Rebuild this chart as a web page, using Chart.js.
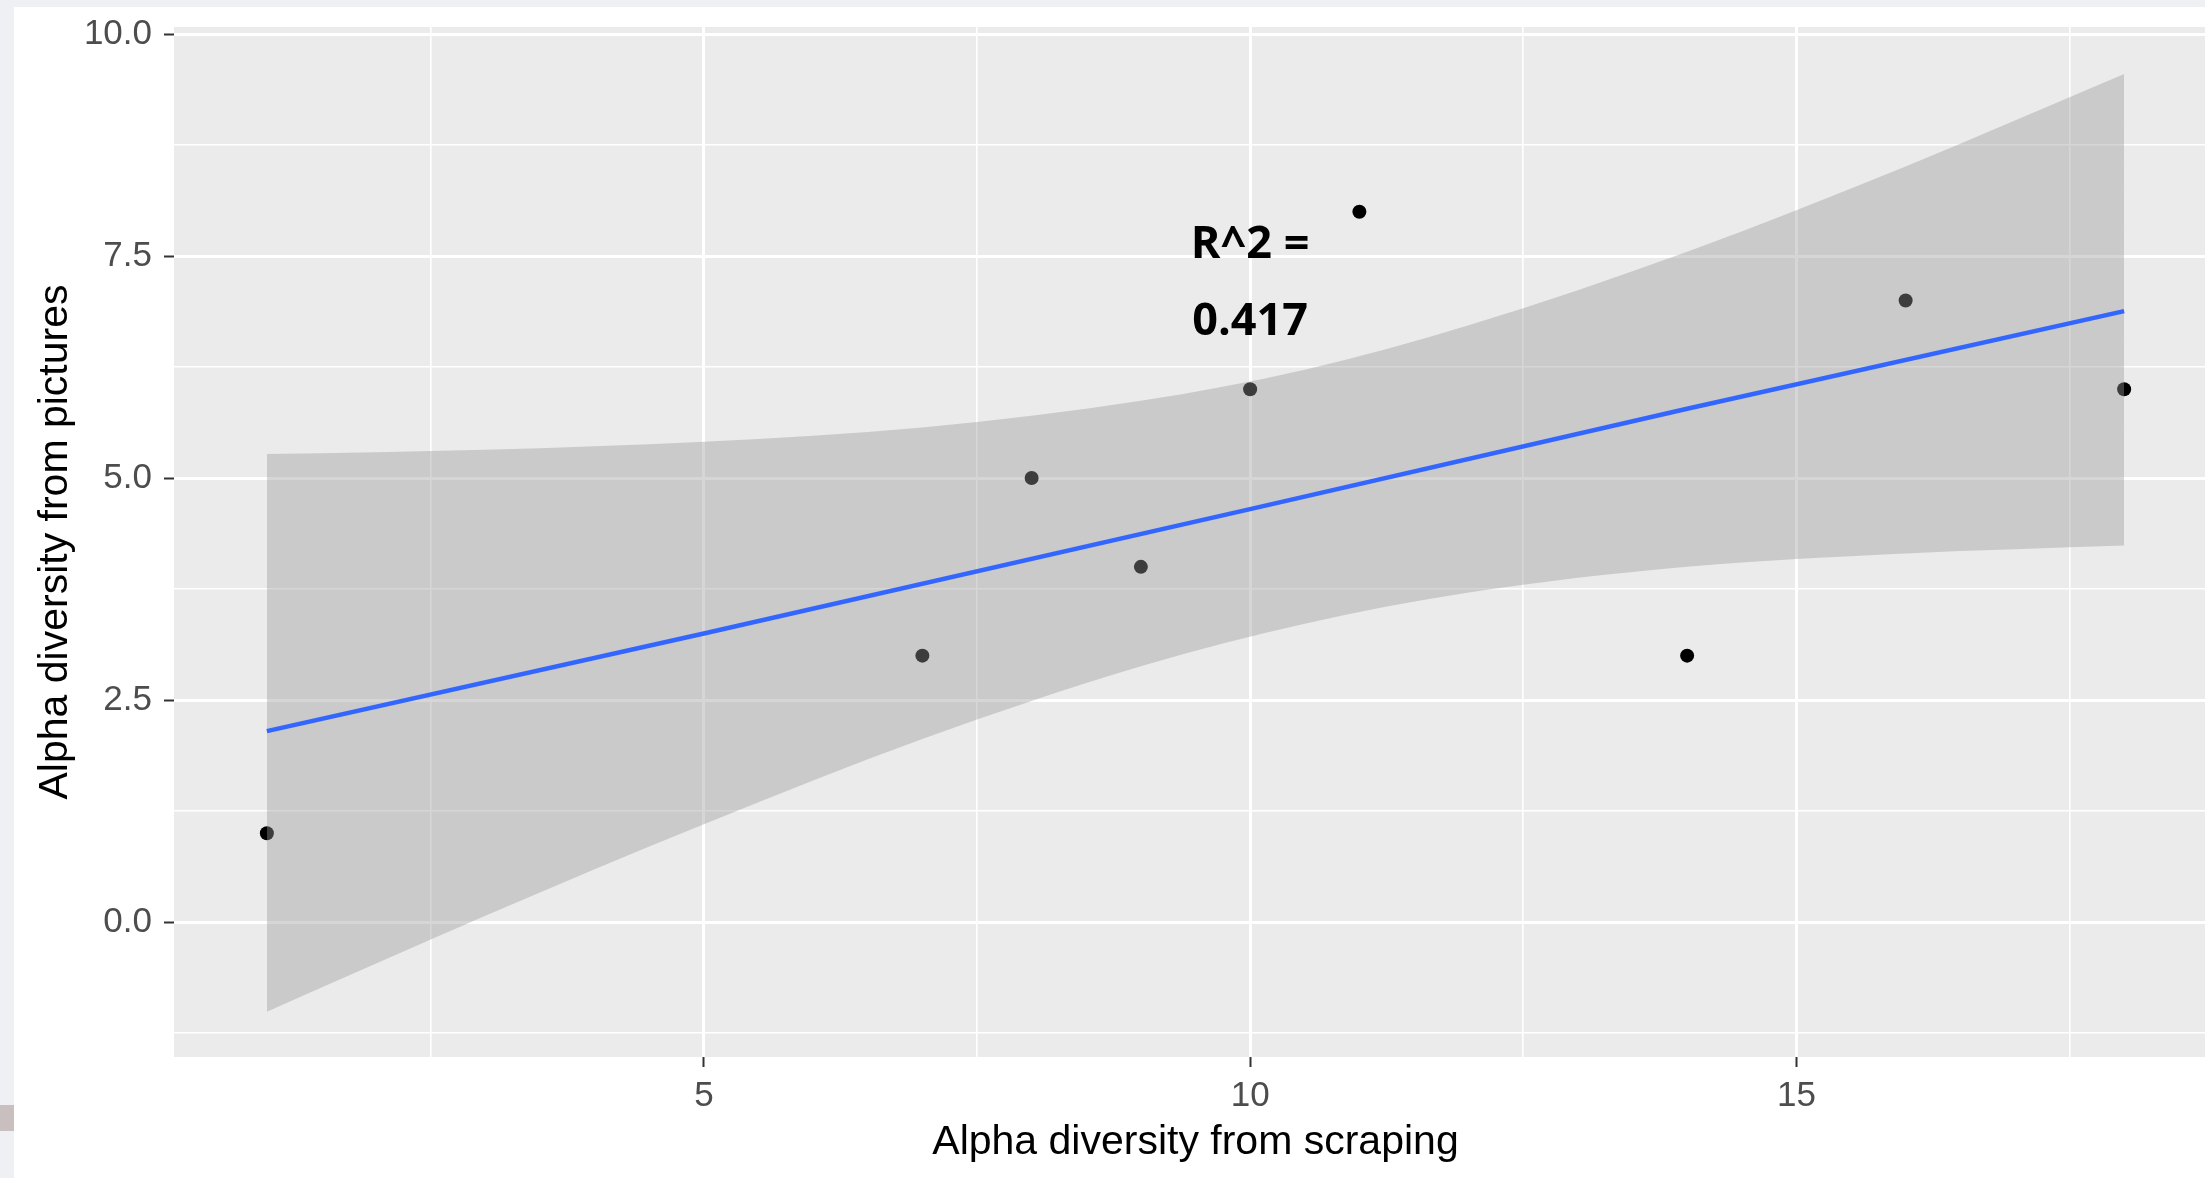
<!DOCTYPE html>
<html>
<head>
<meta charset="utf-8">
<script src="https://cdn.jsdelivr.net/npm/chart.js@4.4.1/dist/chart.umd.min.js"></script>
<style>
  html, body { margin: 0; padding: 0; overflow: hidden; background: #eef0f3; width: 2205px; height: 1178px; }
  #wrap { position: absolute; left: 14px; top: 7px; width: 2210px; height: 1171px; background: #ffffff; }
  #tab { position: absolute; left: 0; top: 1105px; width: 14px; height: 26px; background: #c9bfbf; }
</style>
</head>
<body>
<div id="tab"></div>
<div id="wrap"><canvas id="myChart" width="2210" height="1171"></canvas></div>
<script>
// observed points
const scrapingAlpha = [1, 7, 8, 9, 10, 11, 14, 16, 18];
const pictureAlpha = [1, 3, 5, 4, 6, 8, 3, 7, 6];

// fitted line
const fitX = [1, 5, 10, 14, 18];
const fitY = [2.15, 3.25, 4.65, 5.78, 6.88];

// confidence band
const bandX = [1, 3, 5, 7, 9, 10.5, 12, 14, 16, 18];
const bandUpper = [5.27, 5.32, 5.41, 5.57, 5.87, 6.22, 6.72, 7.55, 8.51, 9.55];
const bandLower = [-1.01, 0.07, 1.10, 2.06, 2.88, 3.36, 3.71, 4.00, 4.15, 4.24];

// axis ticks
const xMajor = [5, 10, 15];
const xTickLabels = ['5', '10', '15'];
const xMinor = [2.5, 7.5, 12.5, 17.5];
const yMajor = [0, 2.5, 5, 7.5, 10];
const yTickLabels = ['0.0', '2.5', '5.0', '7.5', '10.0'];
const yMinor = [-1.25, 1.25, 3.75, 6.25, 8.75];

// annotation
const noteLines = ['R^2 =', '0.417'];
const noteX = 10;
const noteY = [7.62, 6.75];

const pts = (xs, ys) => xs.map((x, i) => ({x: x, y: ys[i]}));

const panelBg = {
  id: 'panelBg',
  beforeDraw(chart) {
    const a = chart.chartArea, c = chart.ctx;
    c.save();
    c.fillStyle = '#ebebeb';
    c.fillRect(a.left, a.top, a.right - a.left, a.bottom - a.top);
    c.restore();
  }
};

const note = {
  id: 'note',
  afterDatasetsDraw(chart) {
    const c = chart.ctx;
    const xs = chart.scales.x, ys = chart.scales.y;
    c.save();
    c.font = 'bold 45px "Open Sans"';
    c.fillStyle = '#000000';
    c.textAlign = 'center';
    c.textBaseline = 'middle';
    noteLines.forEach((t, i) => {
      c.fillText(t, xs.getPixelForValue(noteX), ys.getPixelForValue(noteY[i]));
    });
    c.restore();
  }
};

const gridStyle = (majors) => ({
  color: '#ffffff',
  lineWidth: (ctx) => majors.includes(ctx.tick.value) ? 3 : 1.6,
  tickColor: (ctx) => majors.includes(ctx.tick.value) ? '#333333' : 'rgba(0,0,0,0)',
  tickWidth: 2,
  tickLength: 10,
  drawTicks: true
});

const tickFont = { family: '"Liberation Sans", Arial, sans-serif', size: 35 };
const titleFont = { family: '"Liberation Sans", Arial, sans-serif', size: 41 };

const ctx = document.getElementById('myChart');
new Chart(ctx, {
  type: 'scatter',
  data: {
    datasets: [
      {
        label: 'fit',
        data: pts(fitX, fitY),
        showLine: true,
        borderColor: '#3366ff',
        borderWidth: 4.5,
        pointRadius: 0,
        fill: false,
        order: 1
      },
      {
        label: 'upper',
        data: pts(bandX, bandUpper),
        showLine: true,
        borderWidth: 0,
        borderColor: 'rgba(0,0,0,0)',
        backgroundColor: 'rgba(153,153,153,0.4)',
        pointRadius: 0,
        cubicInterpolationMode: 'monotone',
        fill: '+1',
        order: 5
      },
      {
        label: 'lower',
        data: pts(bandX, bandLower),
        showLine: true,
        borderWidth: 0,
        borderColor: 'rgba(0,0,0,0)',
        pointRadius: 0,
        cubicInterpolationMode: 'monotone',
        fill: false,
        order: 6
      },
      {
        label: 'points',
        data: pts(scrapingAlpha, pictureAlpha),
        pointRadius: 7,
        pointBackgroundColor: '#000000',
        pointBorderWidth: 0,
        order: 10
      }
    ]
  },
  options: {
    responsive: false,
    animation: false,
    layout: { padding: { top: 20, right: 6, left: 0, bottom: 0 } },
    plugins: {
      legend: { display: false },
      tooltip: { enabled: false }
    },
    scales: {
      x: {
        type: 'linear',
        min: 0.15,
        max: 18.85,
        afterBuildTicks: (s) => { s.ticks = xMajor.concat(xMinor).sort((a, b) => a - b).map(v => ({value: v})); },
        afterFit: (s) => { s.height = 121; s.paddingLeft = 0; s.paddingRight = 0; },
        border: { display: false },
        grid: gridStyle(xMajor),
        ticks: {
          autoSkip: false,
          maxRotation: 0,
          padding: 8,
          color: '#4d4d4d',
          font: tickFont,
          callback: (v) => { const i = xMajor.indexOf(v); return i >= 0 ? xTickLabels[i] : ''; }
        },
        title: {
          display: true,
          text: 'Alpha diversity from scraping',
          color: '#000000',
          font: titleFont,
          padding: { top: 0, bottom: 11 }
        }
      },
      y: {
        type: 'linear',
        min: -1.52,
        max: 10.08,
        afterBuildTicks: (s) => { s.ticks = yMajor.concat(yMinor).sort((a, b) => a - b).map(v => ({value: v})); },
        afterFit: (s) => { s.width = 160; s.paddingTop = 0; s.paddingBottom = 0; },
        border: { display: false },
        grid: gridStyle(yMajor),
        ticks: {
          autoSkip: false,
          padding: 12,
          color: '#4d4d4d',
          font: tickFont,
          callback: (v) => { const i = yMajor.indexOf(v); return i >= 0 ? yTickLabels[i] : ''; }
        },
        title: {
          display: true,
          text: 'Alpha diversity from pictures',
          color: '#000000',
          font: titleFont,
          padding: { top: 17, bottom: 0 }
        }
      }
    }
  },
  plugins: [panelBg, note]
});
</script>
</body>
</html>
